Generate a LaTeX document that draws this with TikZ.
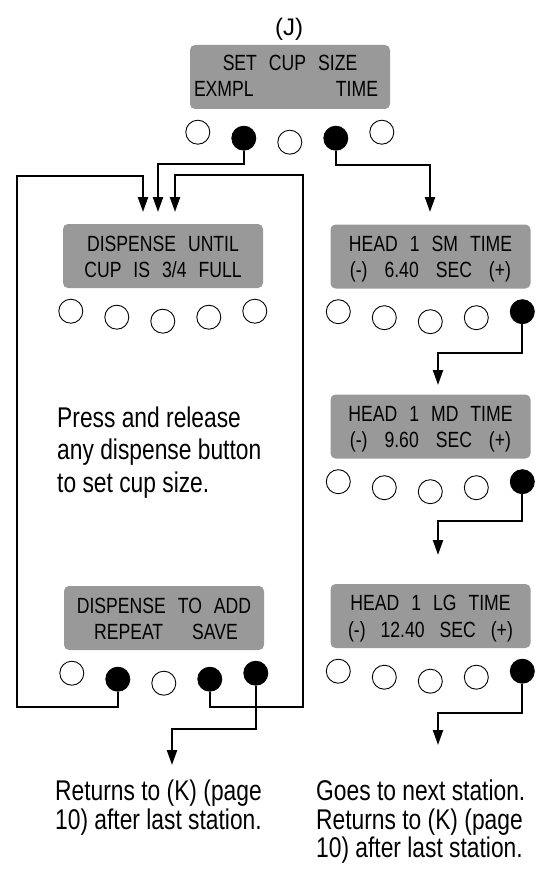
\documentclass[tikz,border=0pt]{standalone}
\usepackage{fontspec}
\newfontfamily\condfont[FakeStretch=0.8]{Liberation Sans}
\newfontfamily\plainfont{Liberation Sans}
\usetikzlibrary{arrows.meta}
\newcommand\dispfnt{\condfont\fontsize{22}{26}\selectfont\spaceskip=12pt\relax}
\newcommand\bodyfnt{\condfont\fontsize{28.5}{32}\selectfont}
\newcommand\titlefnt{\plainfont\fontsize{24}{28}\selectfont}
\newcommand\btnrow[6]{%
  \node[#2] (#1-1) at ([xshift=8pt,yshift=-23pt]#1.south west) {};
  \node[#3] (#1-2) at ([xshift=54pt,yshift=-29pt]#1.south west) {};
  \node[#4] (#1-3) at ([xshift=100pt,yshift=-33pt]#1.south west) {};
  \node[#5] (#1-4) at ([xshift=146pt,yshift=-29pt]#1.south west) {};
  \node[#6] (#1-5) at ([xshift=192pt,yshift=-23pt]#1.south west) {};
}
\begin{document}
\begin{tikzpicture}[x=1pt,y=-1pt,
  disp/.style={fill=black!40, rounded corners=5pt, minimum width=200pt, minimum height=64pt, inner sep=0pt},
  dline/.style={anchor=base, inner sep=0pt, font=\dispfnt},
  titletext/.style={anchor=base, inner sep=0pt, font=\titlefnt},
  body/.style={anchor=base west, inner sep=0pt, font=\bodyfnt},
  btn/.style={circle, draw, line width=0.9pt, minimum size=24pt, inner sep=0pt, fill=white},
  on/.style={btn, fill=black},
  conn/.style={line width=2.2pt},
  arr/.style={conn, -{Triangle[length=15pt,width=10pt]}},
]
\useasboundingbox (0,0) rectangle (547,869);

% displays
\node[disp] (J)  at (290,77) {};
\node[disp] (L1) at (163,256) {};
\node[disp] (L2) at (164,618) {};
\node[disp] (R1) at (430.5,256.5) {};
\node[disp] (R2) at (430.5,426.5) {};
\node[disp] (R3) at (430.5,616) {};

% display texts
\node[dline] (J-t1) at ([yshift=-26pt]J.north) {SET CUP SIZE};
\node[dline, anchor=base west] (J-t2) at ([xshift=4pt,yshift=-52pt]J.north west) {EXMPL};
\node[dline, anchor=base east] (J-t3) at ([xshift=-12pt,yshift=-52pt]J.north east) {TIME};

\node[dline] (L1-t1) at ([yshift=-28pt]L1.north) {DISPENSE UNTIL};
\node[dline] (L1-t2) at ([yshift=-54pt]L1.north) {CUP IS 3/4 FULL};

\node[dline] (L2-t1) at ([yshift=-28pt]L2.north) {DISPENSE TO ADD};
\node[dline] (L2-t2) at ([xshift=2pt,yshift=-54pt]L2.north) {REPEAT\hspace{29pt}SAVE};

\node[dline] (R1-t1) at ([yshift=-27pt]R1.north) {HEAD 1 SM TIME};
\node[dline] (R1-t2) at ([yshift=-53.5pt]R1.north) {(-)\hspace{17pt}6.40\hspace{17pt}SEC\hspace{17pt}(+)};
\node[dline] (R2-t1) at ([yshift=-27pt]R2.north) {HEAD 1 MD TIME};
\node[dline] (R2-t2) at ([yshift=-53.5pt]R2.north) {(-)\hspace{17pt}9.60\hspace{17pt}SEC\hspace{17pt}(+)};
\node[dline] (R3-t1) at ([yshift=-27pt]R3.north) {HEAD 1 LG TIME};
\node[dline] (R3-t2) at ([yshift=-53.5pt]R3.north) {(-)\hspace{15pt}12.40\hspace{15pt}SEC\hspace{15pt}(+)};

% title
\node[titletext] (title) at (289,36) {(J)};

% buttons
\btnrow{J}{btn}{on}{btn}{on}{btn}
\btnrow{L1}{btn}{btn}{btn}{btn}{btn}
\btnrow{L2}{btn}{on}{btn}{on}{on}
\btnrow{R1}{btn}{btn}{btn}{btn}{on}
\btnrow{R2}{btn}{btn}{btn}{btn}{on}
\btnrow{R3}{btn}{btn}{btn}{btn}{on}

% free ends and corners
\coordinate (a1) at (143,212);
\coordinate (a2) at (158,212);
\coordinate (a3) at (175,212);
\coordinate (a4) at (430,212);
\coordinate (a5) at (172,765);
\coordinate (ar1) at (438,385);
\coordinate (ar2) at (438,555);
\coordinate (ar3) at (438,745);
\coordinate (lc) at (17,176);
\coordinate (rc) at (303,175);

% connectors
\draw[arr] (J-2.south) -- ++(0,13) -| (a2);
\draw[arr] (J-4.south) -- ++(0,14) -| (a4);
\draw[arr] (L2-2.south) -- ++(0,15) -| (lc) -| (a1);
\draw[arr] (L2-4.south) -- ++(0,15) -| (rc) -| (a3);
\draw[arr] (L2-5.south) -- ++(0,43) -| (a5);
\draw[arr] (R1-5.south) -- ++(0,29) -| (ar1);
\draw[arr] (R2-5.south) -- ++(0,27) -| (ar2);
\draw[arr] (R3-5.south) -- ++(0,29) -| (ar3);

% body texts
\node[body] (m1) at (57,427) {Press and release};
\node[body] (m2) at (57,459.5) {any dispense button};
\node[body] (m3) at (57,492) {to set cup size.};

\node[body] (bl1) at (55,800) {Returns to (K) (page};
\node[body] (bl2) at (55,829) {10) after last station.};

\node[body] (br1) at (316,800) {Goes to next station.};
\node[body] (br2) at (316,829) {Returns to (K) (page};
\node[body] (br3) at (316,857) {10) after last station.};
\end{tikzpicture}
\end{document}
